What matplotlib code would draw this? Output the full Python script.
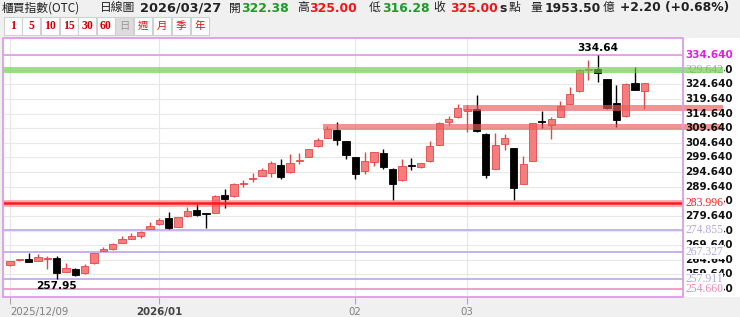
"""
K線圖：櫃買指數(OTC) 日線
"""
import numpy as np
import matplotlib.pyplot as plt
from matplotlib.patches import Rectangle

# 日K資料 (2025/12/09 起)
opens = [262.7, 264.5, 265.0, 264.3, 265.0, 265.1, 260.6, 261.4, 260.0, 263.4,
         267.7, 268.2, 270.3, 271.7, 272.6, 275.1, 276.7, 278.9, 276.0, 279.5,
         281.7, 280.4, 280.8, 286.9, 286.3, 290.7, 292.2, 293.4, 294.3, 297.2,
         294.5, 298.6, 299.8, 303.4, 306.3, 308.9, 305.2, 299.7, 295.1, 298.1,
         301.2, 295.8, 291.8, 296.9, 296.4, 298.3, 304.0, 311.7, 313.4, 315.6,
         316.3, 307.8, 295.7, 304.3, 302.9, 290.6, 298.6, 311.9, 310.9, 313.5,
         318.1, 322.3, 329.5, 330.0, 326.5, 318.3, 313.7, 325.2, 322.38]
highs = [264.3, 265.0, 267.1, 266.6, 265.9, 265.9, 263.4, 261.7, 263.2, 267.0,
         269.1, 270.5, 272.6, 273.7, 274.5, 277.4, 278.9, 281.0, 279.3, 282.6,
         283.7, 280.5, 286.7, 288.8, 290.8, 291.8, 294.3, 296.0, 298.5, 299.1,
         300.8, 301.2, 302.6, 306.3, 310.5, 311.7, 305.3, 299.8, 301.4, 301.6,
         302.7, 296.0, 299.2, 299.4, 297.9, 305.2, 311.7, 313.7, 318.1, 317.7,
         320.9, 307.9, 308.0, 307.7, 303.0, 300.0, 311.6, 315.4, 313.5, 319.1,
         323.8, 330.0, 332.9, 334.64, 326.6, 324.3, 325.0, 330.7, 325.00]
lows = [262.6, 264.3, 263.8, 264.2, 261.4, 257.95, 260.5, 258.9, 259.9, 263.3,
        267.6, 268.1, 270.2, 271.6, 272.0, 275.0, 276.6, 275.2, 275.9, 279.4,
        279.5, 275.5, 280.6, 282.3, 286.2, 289.7, 291.4, 293.3, 292.9, 292.2,
        294.4, 297.4, 299.7, 303.3, 306.2, 304.0, 299.2, 292.3, 294.0, 296.6,
        295.8, 285.2, 291.6, 295.4, 296.0, 298.2, 303.9, 310.6, 313.3, 308.3,
        308.3, 292.6, 295.6, 302.3, 285.2, 290.5, 298.5, 309.7, 306.1, 313.4,
        318.0, 322.2, 326.3, 325.4, 316.4, 310.1, 313.6, 322.6, 316.28]
closes = [264.2, 264.7, 263.9, 265.5, 265.2, 260.2, 261.7, 259.4, 262.5, 266.9,
          268.3, 269.9, 271.7, 272.9, 274.3, 276.3, 278.1, 275.4, 279.2, 281.4,
          280.0, 280.2, 286.5, 285.4, 290.6, 291.0, 292.6, 295.2, 297.9, 292.8,
          297.9, 298.9, 302.5, 305.5, 309.4, 305.5, 300.6, 294.0, 298.3, 301.5,
          296.3, 290.6, 296.6, 296.7, 297.7, 303.7, 311.5, 312.9, 316.6, 316.1,
          308.6, 293.7, 304.0, 306.3, 289.2, 297.5, 311.4, 311.7, 312.8, 317.2,
          321.2, 329.5, 329.8, 328.6, 316.6, 312.6, 324.9, 322.7, 325.00]

# X軸 (月份分隔)
tick_idx = [0, 16, 37, 49]
tick_labels = ['2025/12/09', '2026/01', '02', '03']

# Y軸刻度
y_ticks = [254.64 + 5 * k for k in range(17)]

# 水平線 (價位, 顏色)
line_levels = [274.855, 267.327, 257.911, 254.660]
line_colors = ['#c0aee8', '#c0aee8', '#c0aee8', '#f39ac4']
line_label_colors = ['#b4a8dc', '#b4a8dc', '#b4a8dc', '#f087b4']
support_level = 283.996
top_level = 334.64

# 區間帶 (中心價位, 起始K棒)
green_level = 329.642
red_bands = [316.7, 310.0]
red_band_start = [49, 34]

RED = '#f47e7e'
RED_EDGE = '#e24848'

fig = plt.figure(figsize=(7.4, 3.17), dpi=100, facecolor='#f0f0f0')
ax = fig.add_axes([3 / 740, 1 - 297 / 317, 737 / 740, 259 / 317])
ax.set_facecolor('white')

x_lo, x_hi = -0.75, 78.24      # 整個區域 (含右側刻度欄)
x_edge = 72.13                 # 繪圖區右邊框
x_lab = 72.35                  # 刻度文字
x_band = 76.42                 # 區間帶延伸
y_lo, y_hi = 251.88, 340.54
ax.set_xlim(x_lo, x_hi)
ax.set_ylim(y_lo, y_hi)

# 格線
ax.hlines(y_ticks, x_lo, x_edge, color='#e8e8e8', lw=0.8, zorder=1)
ax.vlines(tick_idx, y_lo, y_hi, color='#e6e6e6', lw=0.8, zorder=1)

# 水平線
ax.hlines(line_levels, x_lo, x_edge, colors=line_colors, lw=1.3, zorder=2)
ax.hlines(top_level, x_lo, x_edge, color='#e48ee8', lw=1.1, zorder=2)

# K棒
x = np.arange(len(opens))
o = np.array(opens)
c = np.array(closes)
up = c >= o
body_lo = np.minimum(o, c)
body_h = np.maximum(np.abs(c - o), 0.3)
wick_col = np.where(up, RED_EDGE, 'black')
ax.vlines(x, lows, highs, colors=wick_col, lw=1.0, zorder=3)
ax.bar(x[up], body_h[up], bottom=body_lo[up], width=0.78,
       color=RED, edgecolor=RED_EDGE, linewidth=0.6, zorder=3)
ax.bar(x[~up], body_h[~up], bottom=body_lo[~up], width=0.78,
       color='black', edgecolor='black', linewidth=0.6, zorder=3)

# 支撐線
ax.hlines(support_level, x_lo, x_edge, color='#ff5050', lw=5, alpha=0.45, zorder=4)
ax.hlines(support_level, x_lo, x_edge, color='#ff1a1a', lw=1.8, zorder=4)

# 紅色區間帶
for lvl, start in zip(red_bands, red_band_start):
    ax.add_patch(Rectangle((start - 0.4, lvl - 1.03), x_band - start + 0.4, 2.06,
                           facecolor='#e85a5a', alpha=0.65, lw=0, zorder=4,
                           clip_on=False))

# 右側刻度
for v in y_ticks:
    if abs(v - top_level) < 0.01:
        continue
    ax.text(x_lab, v, f'{v:.3f}', fontsize=7.5, fontweight='bold', color='#111111',
            va='center', ha='left', zorder=5)
ax.text(x_lab, top_level, f'{top_level:.3f}', fontsize=7.5, fontweight='bold',
        color='#e020e0', va='center', ha='left', zorder=5)

# 水平線標籤
def level_label(v, col):
    ax.text(x_lab, v, f'{v:.3f}', fontsize=8.4, family='Liberation Serif', color=col,
            va='center', ha='left', zorder=6,
            bbox=dict(facecolor='white', edgecolor='none', pad=0.5))

for v, col in zip(line_levels, line_label_colors):
    level_label(v, col)
level_label(support_level, '#ff2020')
level_label(green_level, '#a8a8a8')

# 綠色區間帶
ax.add_patch(Rectangle((x_lo, green_level - 1.03), x_band - x_lo, 2.06,
                       facecolor='#62d244', alpha=0.65, lw=0, zorder=7, clip_on=False))

# 最高/最低標示
i_hi = int(np.argmax(highs))
i_lo = int(np.argmin(lows))
ax.text(i_hi, highs[i_hi] + 0.6, f'{highs[i_hi]:.2f}', fontsize=7.6, fontweight='bold',
        ha='center', va='bottom', zorder=8)
ax.text(i_lo, lows[i_lo] - 0.5, f'{lows[i_lo]:.2f}', fontsize=7.6, fontweight='bold',
        ha='center', va='top', zorder=8)

# 邊框
ax.plot([x_lo, x_edge, x_edge, x_lo, x_lo], [y_lo, y_lo, y_hi, y_hi, y_lo],
        color='#dc9ce8', lw=1.3, clip_on=False, zorder=9)
for s in ax.spines.values():
    s.set_visible(False)
ax.set_yticks([])
ax.set_xticks(tick_idx, tick_labels)
ax.tick_params(axis='x', length=5, color='#aaaaaa', pad=2, labelsize=7.4,
               labelcolor='#808080')
labs = ax.get_xticklabels()
labs[0].set_ha('left')
labs[1].set_fontweight('bold')
labs[1].set_color('#444444')

# 標題列
def hdr(xpx, s, color='#222222', bold=False, size=8.9, cjk=False):
    fam = ['Noto Sans CJK TC'] if cjk else ['DejaVu Sans']
    fig.text(xpx / 740, 1 - 8 / 317, s, color=color, fontsize=8.5 if cjk else size,
             fontweight='bold' if bold else 'normal', family=fam, va='center', ha='left')

GREEN = '#1f9a28'
HRED = '#ee1515'
hdr(2, '櫃買指數(OTC)', cjk=True)
hdr(100, '日線圖', cjk=True)
hdr(140, '2026/03/27', bold=True, size=9.3)
hdr(229, '開', cjk=True)
hdr(241, '322.38', color=GREEN, bold=True)
hdr(297, '高', cjk=True)
hdr(309, '325.00', color=HRED, bold=True)
hdr(369, '低', cjk=True)
hdr(382, '316.28', color=GREEN, bold=True)
hdr(433, '收', cjk=True)
hdr(450, '325.00', color=HRED, bold=True)
hdr(499, 's', bold=True)
hdr(509, '點', cjk=True)
hdr(530, '量', cjk=True)
hdr(545, '1953.50', bold=True)
hdr(603, '億', cjk=True)
hdr(620, '+2.20 (+0.68%)', bold=True)

# 週期按鈕
btn_labels = ['1', '5', '10', '15', '30', '60', '日', '週', '月', '季', '年']
btn_left = [4, 22, 41, 60, 78, 97, 115, 134, 153, 172, 191]
for lab, bx in zip(btn_labels, btn_left):
    sel = lab == '日'
    fig.patches.append(Rectangle((bx / 740, 1 - 35 / 317), 18 / 740, 18 / 317,
                                 transform=fig.transFigure,
                                 facecolor='#dcdcdc' if sel else 'white',
                                 edgecolor='#d0d0d0', lw=0.8))
    if lab.isdigit():
        fig.text((bx + 9) / 740, 1 - 26 / 317, lab, color='#cc0000', fontsize=8.5,
                 fontweight='bold', family='Liberation Serif', ha='center', va='center')
    else:
        fig.text((bx + 9) / 740, 1 - 26 / 317, lab, color='#999999' if sel else '#dd1111',
                 fontsize=7.5, family=['Noto Sans CJK TC'], ha='center', va='center')

fig.savefig('out.png', dpi=100, facecolor=fig.get_facecolor())
